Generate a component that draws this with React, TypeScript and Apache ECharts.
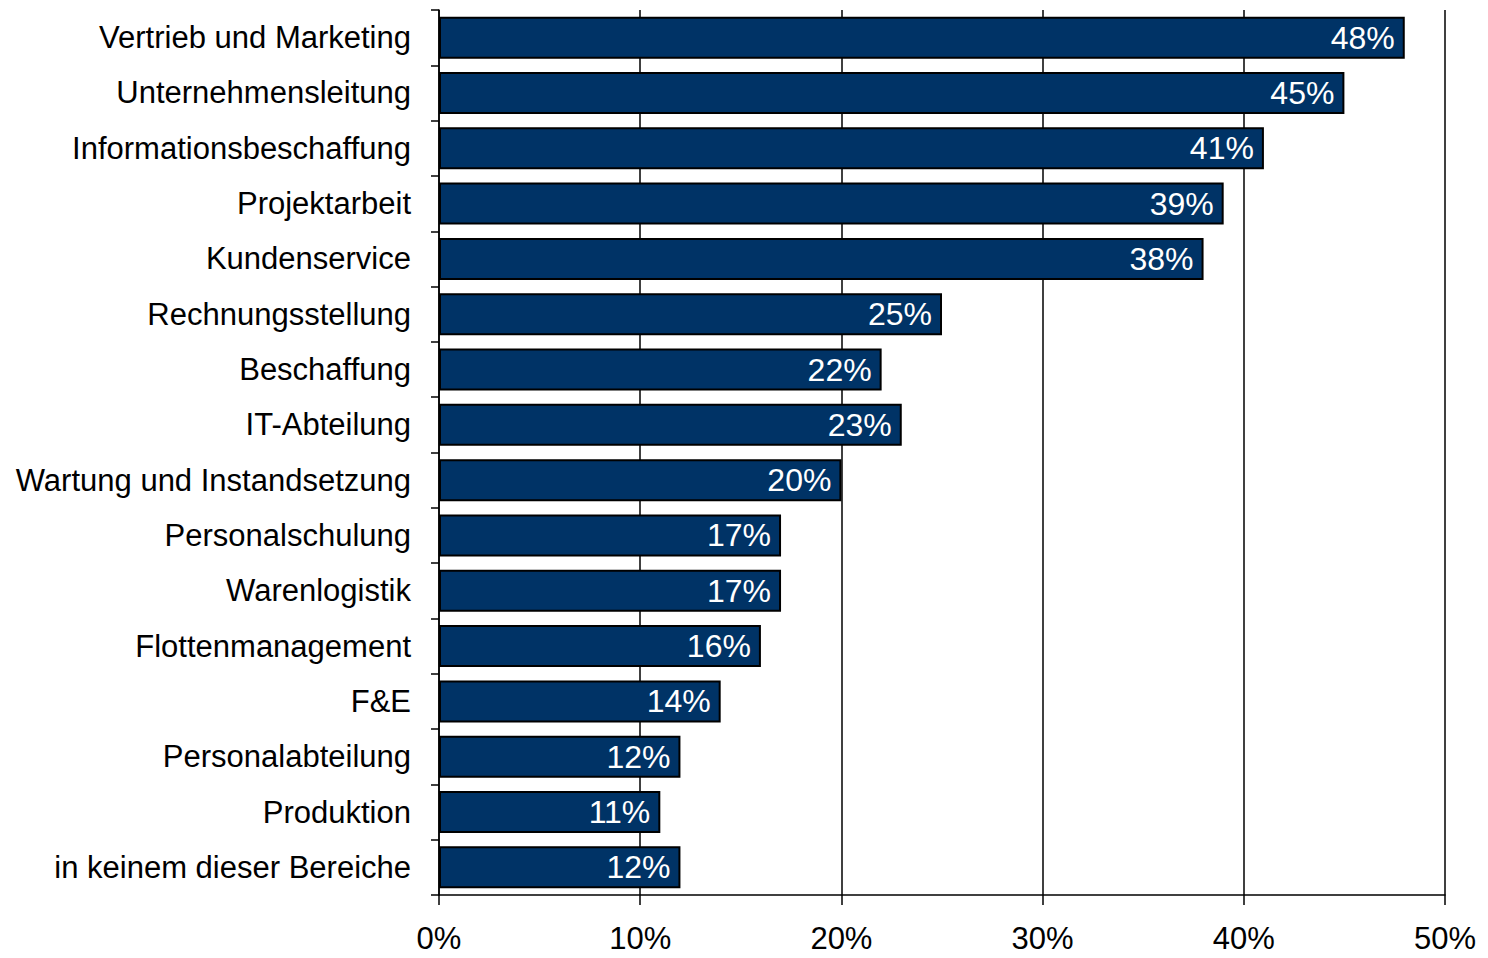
import React, { useEffect, useRef } from "react";
import * as echarts from "echarts";

const categories = [
  "Vertrieb und Marketing",
  "Unternehmensleitung",
  "Informationsbeschaffung",
  "Projektarbeit",
  "Kundenservice",
  "Rechnungsstellung",
  "Beschaffung",
  "IT-Abteilung",
  "Wartung und Instandsetzung",
  "Personalschulung",
  "Warenlogistik",
  "Flottenmanagement",
  "F&E",
  "Personalabteilung",
  "Produktion",
  "in keinem dieser Bereiche",
];
const values = [48, 45, 41, 39, 38, 25, 22, 23, 20, 17, 17, 16, 14, 12, 11, 12];

const FONT = "'Liberation Sans', Arial, sans-serif";

export default function App() {
  const ref = useRef<HTMLDivElement>(null);
  useEffect(() => {
    if (!ref.current) return;
    const chart = echarts.init(ref.current, undefined, { renderer: "svg" });
    chart.setOption({
      animation: false,
      backgroundColor: "#ffffff",
      grid: { left: 439, right: 43, top: 10, bottom: 63 },
      xAxis: {
        type: "value",
        min: 0,
        max: 50,
        interval: 10,
        axisLine: { show: true, lineStyle: { color: "#000", width: 1.5 } },
        axisTick: { show: true, length: 10, lineStyle: { color: "#000", width: 1.5 } },
        splitLine: { show: true, lineStyle: { color: "#000", width: 1.5 } },
        axisLabel: {
          formatter: "{value}%",
          color: "#000",
          fontSize: 31,
          fontFamily: FONT,
          margin: 28,
        },
      },
      yAxis: {
        type: "category",
        data: categories,
        inverse: true,
        axisLine: { show: true, lineStyle: { color: "#000", width: 1.5 } },
        axisTick: { show: true, length: 8, alignWithLabel: false, lineStyle: { color: "#000", width: 1.5 } },
        axisLabel: {
          color: "#000",
          fontSize: 31,
          fontFamily: FONT,
          margin: 28,
          interval: 0,
        },
      },
      series: [
        {
          type: "bar",
          data: values,
          barCategoryGap: "24%",
          itemStyle: { color: "#003366", borderColor: "#000", borderWidth: 2 },
          label: {
            show: true,
            position: "insideRight",
            formatter: "{c}%",
            color: "#fff",
            fontSize: 32,
            fontFamily: FONT,
            distance: 10,
          },
        },
      ],
    });
    return () => chart.dispose();
  }, []);
  return (
    <div
      ref={ref}
      style={{ position: "absolute", left: 0, top: 0, width: 1488, height: 958 }}
    />
  );
}
